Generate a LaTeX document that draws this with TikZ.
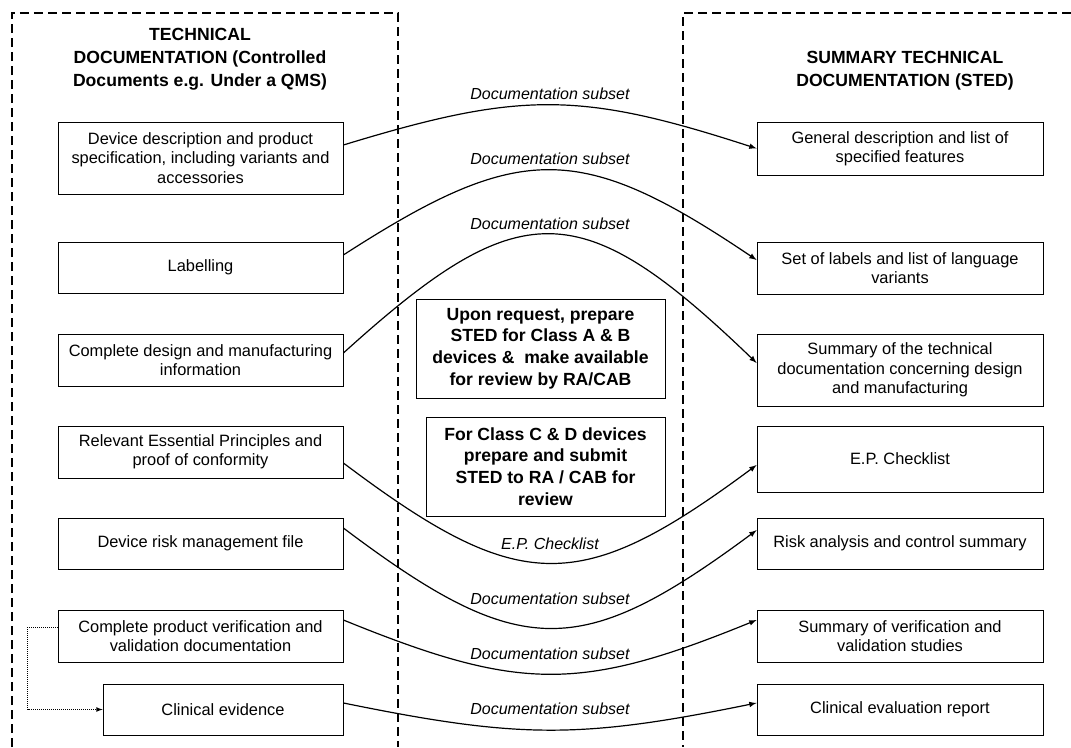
\documentclass[tikz,border=0pt]{standalone}
\usepackage{fontspec}
\setmainfont{Liberation Sans}

\begin{document}
\begin{tikzpicture}[x=0.75pt,y=-0.75pt,
	doc/.style={draw,line width=0.6pt,align=center,inner sep=0pt,font=\fontsize{12.3}{14.6}\selectfont},
	docL/.style={doc,minimum width=213.75pt},
	docR/.style={doc,minimum width=214.5pt},
	head/.style={align=center,font=\bfseries\fontsize{13.2}{17.2}\selectfont},
	task/.style={draw,line width=0.6pt,align=center,inner sep=0pt,font=\bfseries\fontsize{13.2}{16.3}\selectfont},
	sub/.style={font=\itshape\fontsize{12}{14}\selectfont},
	link/.style={-latex,line width=0.9pt},
	frame/.style={dash pattern=on 6.5pt off 4pt,line width=1.5pt}]
			\useasboundingbox (0,0) rectangle (1071,747);
			
			\draw[frame] (12,747) -- (12,13) -- (398,13) -- (398,747);
			\draw[frame] (1071,13) -- (683,13) -- (683,747);
			
			\node[head] (tdhead) at (200,59) {TECHNICAL\\DOCUMENTATION (Controlled\\Documents e.g. Under a QMS)};
			\node[head] (stedhead) at (905,71) {SUMMARY TECHNICAL\\DOCUMENTATION (STED)};
			
			\node[docL,minimum height=54pt] (devdesc) at (200.5,158) {Device description and product\\specification, including variants and\\accessories};
			\node[docL,minimum height=38.25pt] (labelling) at (200.5,267.5) {Labelling};
			\node[docL,minimum height=39pt] (design) at (200.5,360) {Complete design and manufacturing\\information};
			\node[docL,minimum height=39pt] (relevant) at (200.5,452) {Relevant Essential Principles and\\proof of conformity};
			\node[docL,minimum height=38.25pt] (riskfile) at (200.5,543.5) {Device risk management file};
			\node[docL,minimum height=39pt] (verif) at (200.5,636) {Complete product verification and\\validation documentation};
			\node[doc,minimum width=180pt,minimum height=38.25pt] (clinical) at (223,709.5) {Clinical evidence};
			
			\node[docR,minimum height=39.75pt] (general) at (900,148.5) {General description and list of\\specified features};
			\node[docR,minimum height=39pt] (labels) at (900,268) {Set of labels and list of language\\variants};
			\node[docR,minimum height=54pt] (summary) at (900,370) {Summary of the technical\\documentation concerning design\\and manufacturing};
			\node[docR,minimum height=49.5pt] (epcheck) at (900,459) {E.P. Checklist};
			\node[docR,minimum height=38.25pt] (riskana) at (900,543.5) {Risk analysis and control summary};
			\node[docR,minimum height=39pt] (sumverif) at (900,636) {Summary of verification and\\validation studies};
			\node[docR,minimum height=38.25pt] (clineval) at (900,709.5) {Clinical evaluation report};
			
			\node[task,minimum width=186.75pt,minimum height=74.25pt] (request) at (540.5,348.5) {Upon request, prepare\\STED for Class A \& B\\devices \& \ make available\\for review by RA/CAB};
			\node[task,minimum width=179.25pt,minimum height=74.25pt] (classcd) at (545.5,466.5) {For Class C \& D devices\\prepare and submit\\STED to RA / CAB for\\review};
			
			\draw[link] ([yshift=9.75pt]devdesc.east) .. controls (520,91) and (580,91) .. (general.west) node[sub,midway,above] {Documentation subset};
			\draw[link] ([yshift=9.4pt]labelling.east) .. controls (520,141) and (580,141) .. ([yshift=6pt]labels.west) node[sub,midway,above] {Documentation subset};
			\draw[link] ([yshift=5.25pt]design.east) .. controls (520,193) and (580,193) .. ([yshift=5.25pt]summary.west) node[sub,midway,above] {Documentation subset};
			\draw[link] ([yshift=-8.25pt]relevant.east) .. controls (520,596) and (580,596) .. ([yshift=-4.5pt]epcheck.west) node[sub,midway,above=6pt] {E.P. Checklist};
			\draw[link] ([yshift=11.6pt]riskfile.east) .. controls (520,661) and (580,661) .. ([yshift=10pt]riskana.west) node[sub,midway,above=13.5pt] {Documentation subset};
			\draw[link] ([yshift=12pt]verif.east) .. controls (520,692) and (580,692) .. ([yshift=12pt]sumverif.west) node[sub,midway,above=6.75pt] {Documentation subset};
			\draw[link] ([yshift=4.9pt]clinical.east) .. controls (520,739) and (580,739) .. ([yshift=4.9pt]clineval.west) node[sub,midway,above=7.5pt] {Documentation subset};
			
			\draw[-latex,line width=0.6pt,dash pattern=on 0.75pt off 0.75pt] ([yshift=6.75pt]verif.west) -- ++(-30,0) |- (clinical.west);
\end{tikzpicture}
\end{document}
